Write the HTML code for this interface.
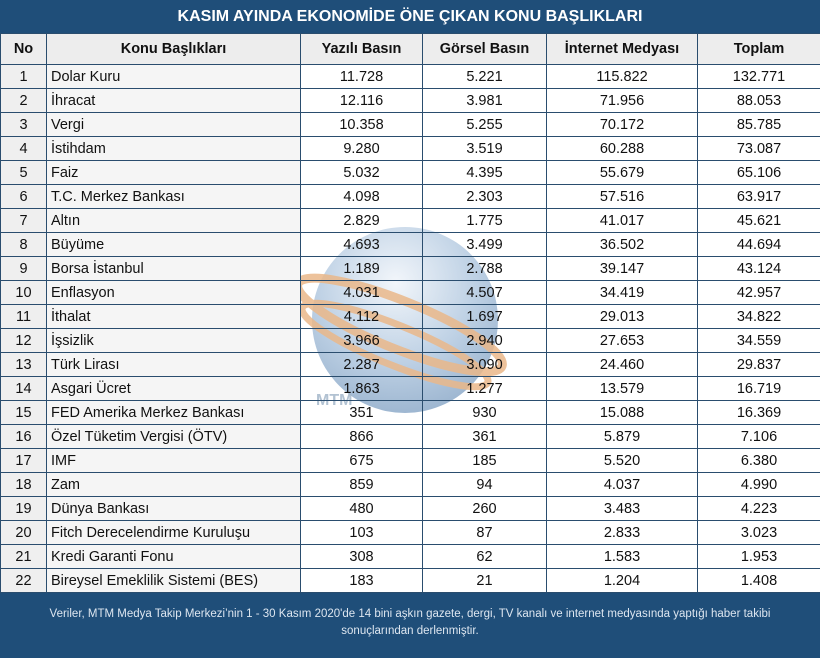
<!DOCTYPE html>
<html><head><meta charset="utf-8"><style>
body{margin:0;width:820px;height:658px;overflow:hidden;background:#fff;font-family:"Liberation Sans",sans-serif;position:relative}
.title{position:absolute;left:0;top:0;width:820px;height:33px;background:#1f4e79;color:#fff;font-weight:bold;font-size:16px;line-height:34px;text-align:center}
table{position:absolute;left:0;top:33px;border-collapse:collapse;width:820px;table-layout:fixed;z-index:2}
td,th{border:1px solid #2a4d6e;height:21px;padding:2px 0 0 0;font-size:14.5px;color:#111;line-height:21px;white-space:nowrap;overflow:hidden;vertical-align:middle}
th{height:29px;padding-top:1px;line-height:29px;background:#ededed;font-weight:bold;font-size:14.5px}
td{text-align:center;background:transparent}
td.n{background:#efefef}
td.k{text-align:left;padding-left:4px;background:#f5f5f5}
.foot{position:absolute;left:0;top:593px;width:820px;height:65px;background:#1f4e79;color:#dde6f0;font-size:11.5px;text-align:center;line-height:17px;padding-top:13px;box-sizing:border-box;z-index:3}
svg{position:absolute;left:0;top:0;z-index:1}
</style></head><body>
<div class="title">KASIM AYINDA EKONOMİDE ÖNE ÇIKAN KONU BAŞLIKLARI</div>
<svg width="820" height="658">
<defs><radialGradient id="g" cx="45%" cy="30%" r="70%"><stop offset="0" stop-color="#eef3f9"/><stop offset="0.6" stop-color="#a9c2dc"/><stop offset="1" stop-color="#7e9fc2"/></radialGradient></defs>
<circle cx="405" cy="320" r="93" fill="url(#g)" opacity="0.75"/>
<g fill="none" stroke="#eab88a" opacity="0.85">
<ellipse cx="400" cy="325" rx="110" ry="24" transform="rotate(22 400 325)" stroke-width="9"/>
<ellipse cx="395" cy="345" rx="100" ry="20" transform="rotate(22 395 345)" stroke-width="7"/>
</g>
<text x="316" y="405" font-family="Liberation Sans" font-weight="bold" font-size="16" fill="#9fb3c8" opacity="0.8">MTM</text>
</svg>
<table>
<colgroup><col style="width:46px"><col style="width:254px"><col style="width:122px"><col style="width:124px"><col style="width:151px"><col style="width:123px"></colgroup>
<tr><th>No</th><th>Konu Başlıkları</th><th>Yazılı Basın</th><th>Görsel Basın</th><th>İnternet Medyası</th><th>Toplam</th></tr>
<tr><td class="n">1</td><td class="k">Dolar Kuru</td><td>11.728</td><td>5.221</td><td>115.822</td><td>132.771</td></tr>
<tr><td class="n">2</td><td class="k">İhracat</td><td>12.116</td><td>3.981</td><td>71.956</td><td>88.053</td></tr>
<tr><td class="n">3</td><td class="k">Vergi</td><td>10.358</td><td>5.255</td><td>70.172</td><td>85.785</td></tr>
<tr><td class="n">4</td><td class="k">İstihdam</td><td>9.280</td><td>3.519</td><td>60.288</td><td>73.087</td></tr>
<tr><td class="n">5</td><td class="k">Faiz</td><td>5.032</td><td>4.395</td><td>55.679</td><td>65.106</td></tr>
<tr><td class="n">6</td><td class="k">T.C. Merkez Bankası</td><td>4.098</td><td>2.303</td><td>57.516</td><td>63.917</td></tr>
<tr><td class="n">7</td><td class="k">Altın</td><td>2.829</td><td>1.775</td><td>41.017</td><td>45.621</td></tr>
<tr><td class="n">8</td><td class="k">Büyüme</td><td>4.693</td><td>3.499</td><td>36.502</td><td>44.694</td></tr>
<tr><td class="n">9</td><td class="k">Borsa İstanbul</td><td>1.189</td><td>2.788</td><td>39.147</td><td>43.124</td></tr>
<tr><td class="n">10</td><td class="k">Enflasyon</td><td>4.031</td><td>4.507</td><td>34.419</td><td>42.957</td></tr>
<tr><td class="n">11</td><td class="k">İthalat</td><td>4.112</td><td>1.697</td><td>29.013</td><td>34.822</td></tr>
<tr><td class="n">12</td><td class="k">İşsizlik</td><td>3.966</td><td>2.940</td><td>27.653</td><td>34.559</td></tr>
<tr><td class="n">13</td><td class="k">Türk Lirası</td><td>2.287</td><td>3.090</td><td>24.460</td><td>29.837</td></tr>
<tr><td class="n">14</td><td class="k">Asgari Ücret</td><td>1.863</td><td>1.277</td><td>13.579</td><td>16.719</td></tr>
<tr><td class="n">15</td><td class="k">FED Amerika Merkez Bankası</td><td>351</td><td>930</td><td>15.088</td><td>16.369</td></tr>
<tr><td class="n">16</td><td class="k">Özel Tüketim Vergisi (ÖTV)</td><td>866</td><td>361</td><td>5.879</td><td>7.106</td></tr>
<tr><td class="n">17</td><td class="k">IMF</td><td>675</td><td>185</td><td>5.520</td><td>6.380</td></tr>
<tr><td class="n">18</td><td class="k">Zam</td><td>859</td><td>94</td><td>4.037</td><td>4.990</td></tr>
<tr><td class="n">19</td><td class="k">Dünya Bankası</td><td>480</td><td>260</td><td>3.483</td><td>4.223</td></tr>
<tr><td class="n">20</td><td class="k">Fitch Derecelendirme Kuruluşu</td><td>103</td><td>87</td><td>2.833</td><td>3.023</td></tr>
<tr><td class="n">21</td><td class="k">Kredi Garanti Fonu</td><td>308</td><td>62</td><td>1.583</td><td>1.953</td></tr>
<tr><td class="n">22</td><td class="k">Bireysel Emeklilik Sistemi (BES)</td><td>183</td><td>21</td><td>1.204</td><td>1.408</td></tr>
</table>
<div class="foot">Veriler, MTM Medya Takip Merkezi’nin 1 - 30 Kasım 2020'de 14 bini aşkın gazete, dergi, TV kanalı ve internet medyasında yaptığı haber takibi<br>sonuçlarından derlenmiştir.</div>
</body></html>
